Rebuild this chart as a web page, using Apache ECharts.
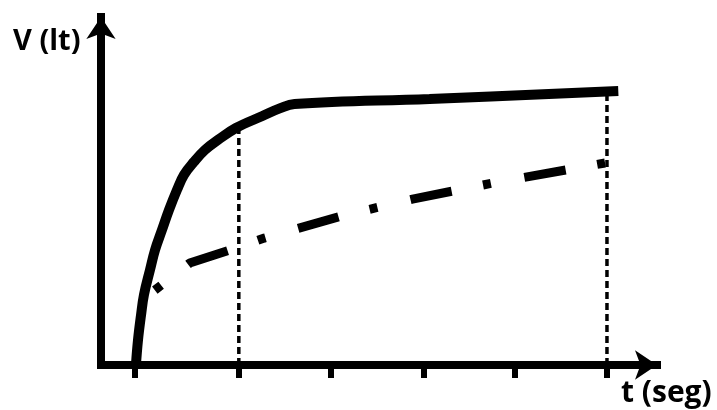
<!DOCTYPE html>
<html>
<head>
<meta charset="utf-8">
<script src="https://cdn.jsdelivr.net/npm/echarts@6.0.0/dist/echarts.min.js"></script>
<style>
html, body { margin: 0; padding: 0; background: #fff; }
#main { width: 717px; height: 410px; }
</style>
</head>
<body>
<div id="main"></div>
<script>
// tick positions on the t axis
var tickT = [0, 1.10, 2.07, 3.06, 4.02, 5];

// solid curve
var solidT = [0.01, 0.032, 0.064, 0.095, 0.159, 0.212, 0.286, 0.36, 0.445, 0.519, 0.625, 0.742, 0.879, 1.07, 1.35, 1.54, 1.69, 3.12, 5.12];
var solidV = [0, 7.3, 14.6, 20.5, 27.8, 33.6, 39.5, 45.3, 51.2, 55.6, 59.4, 62.9, 65.8, 69.3, 72.8, 75.1, 76.3, 77.8, 80.1];

// dash-dot curve
var dashT = [0.21, 0.58, 1.00, 1.37, 2.19, 2.94, 3.79, 4.62, 5.05];
var dashV = [21.9, 29.8, 33.6, 37.1, 43.6, 48.5, 53.2, 57.3, 59.4];

// vertical reference lines
var markT = [1.10, 5];
var markV = [69, 79.8];

function pairs(xs, ys) {
	var out = [];
	for (var i = 0; i < xs.length; i++) {
		out.push([xs[i], ys[i]]);
	}
	return out;
}

var myChart = echarts.init(document.getElementById('main'));

var series = [];
for (var i = 0; i < markT.length; i++) {
	series.push({
		type: 'line',
		data: [[markT[i], 0], [markT[i], markV[i]]],
		symbol: 'none',
		silent: true,
		z: 1,
		lineStyle: { color: '#000', width: 3.5, type: [7, 4] }
	});
}
series.push({
	type: 'line',
	data: pairs(dashT, dashV),
	symbol: 'none',
	silent: true,
	z: 2,
	lineStyle: { color: '#000', width: 9, type: [8, 34, 42, 32], cap: 'butt' }
});
series.push({
	type: 'line',
	data: pairs(solidT, solidV),
	symbol: 'none',
	smooth: 0.4,
	silent: true,
	z: 3,
	lineStyle: { color: '#000', width: 10, cap: 'butt' }
});

var option = {
	backgroundColor: '#fff',
	animation: false,
	grid: { left: 101, right: 60, top: 17, bottom: 45 },
	xAxis: {
		type: 'value',
		min: -0.36,
		max: 5.53,
		splitLine: { show: false },
		axisLabel: { show: false },
		axisLine: {
			show: true,
			onZero: false,
			symbol: ['none', 'arrow'],
			symbolSize: [22, 22],
			lineStyle: { color: '#000', width: 8, cap: 'square' }
		},
		axisTick: {
			show: true,
			customValues: tickT,
			length: 13,
			lineStyle: { color: '#000', width: 6 }
		}
	},
	yAxis: {
		type: 'value',
		min: 0,
		max: 101.75,
		splitLine: { show: false },
		axisLabel: { show: false },
		axisTick: { show: false },
		axisLine: {
			show: true,
			onZero: false,
			symbol: ['none', 'arrow'],
			symbolSize: [22, 22],
			lineStyle: { color: '#000', width: 8, cap: 'square' }
		}
	},
	graphic: [{
		type: 'text',
		x: 13,
		y: 42,
		style: {
			text: 'V (lt)',
			fill: '#000',
			font: 'bold 29px "Open Sans"',
			textVerticalAlign: 'middle'
		}
	}, {
		type: 'text',
		x: 621,
		y: 393,
		style: {
			text: 't (seg)',
			fill: '#000',
			font: 'bold 30px "Open Sans"',
			textVerticalAlign: 'middle'
		}
	}],
	series: series
};

myChart.setOption(option);
</script>
</body>
</html>
